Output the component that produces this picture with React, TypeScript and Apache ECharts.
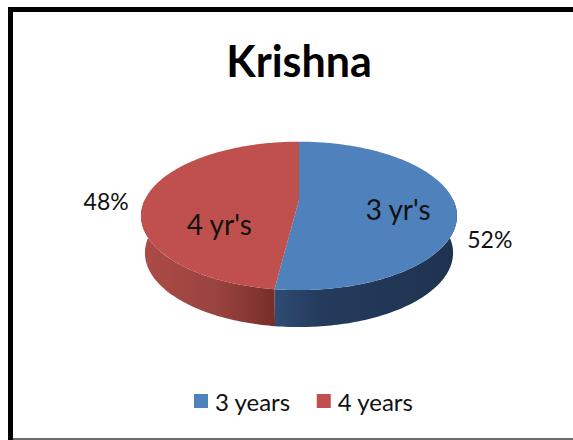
import React, { useEffect, useRef } from "react";
import * as echarts from "echarts";

// ---- data ----
const chartTitle = "Krishna";
const categories = ["3 years", "4 years"];
const values = [52, 48];
const sliceLabels = ["3 yr's", "4 yr's"];

// ---- styling / layout ----
const W = 573;
const H = 440;
const FONT = "Lato, 'Open Sans', sans-serif";
const topColors = ["#4F81BD", "#C0504D"];
const sideStops = [
  [
    { offset: 0, color: "#2f4c73" },
    { offset: 0.25, color: "#243b5d" },
    { offset: 1, color: "#1f3250" },
  ],
  [
    { offset: 0, color: "#ad4b47" },
    { offset: 0.6, color: "#98423e" },
    { offset: 1, color: "#772d2b" },
  ],
];
// pie projection (perspective ellipse)
const CX = 299;
const K = 0.214;
const TOP = { y0: 200, a: 70.8, b: 154.3 };
const BOT = { y0: 237, a: 70.8, b: 150.5 };
const INNER_R = 0.6;
const OUTER_R = 1.2;
const innerNudge = [
  [6, 6],
  [12, 27],
];
const outerNudge = [
  [3, 34],
  [-11, 6],
];

function proj(deg: number, r: number, lv: { y0: number; a: number; b: number }) {
  const t = (deg * Math.PI) / 180;
  const z = -r * Math.cos(t);
  const s = 1 / (1 - K * z);
  return [CX + lv.b * r * Math.sin(t) * s, lv.y0 + lv.a * z * s];
}

function arcPoints(a0: number, a1: number, lv: any) {
  const pts: number[][] = [];
  const n = Math.max(2, Math.ceil((a1 - a0) / 1));
  for (let i = 0; i <= n; i++) pts.push(proj(a0 + ((a1 - a0) * i) / n, 1, lv));
  return pts;
}

export default function App() {
  const ref = useRef<HTMLDivElement>(null);
  useEffect(() => {
    if (!ref.current) return;
    const chart = echarts.init(ref.current, null, { renderer: "svg" });
    const total = values.reduce((s, v) => s + v, 0);

    const series = categories.map((name, idx) => ({
      type: "custom",
      name,
      coordinateSystem: "none",
      itemStyle: { color: topColors[idx] },
      data: [[values[idx]]],
      renderItem: (params: any, api: any) => {
        const v = api.value(0);
        let cum = 0;
        for (let j = 0; j < idx; j++) cum += values[j];
        const a0 = (360 * cum) / total;
        const a1 = a0 + (360 * v) / total;
        const children: any[] = [];
        // side wall (front half only)
        const s0 = Math.max(a0, 90);
        const s1 = Math.min(a1, 270);
        if (s1 > s0) {
          const topArc = arcPoints(s0, s1, TOP);
          const botArc = arcPoints(s0, s1, BOT).reverse();
          const pts = topArc.concat(botArc);
          const xs = pts.map((p) => p[0]);
          const minX = Math.min(...xs);
          const maxX = Math.max(...xs);
          const grad = new echarts.graphic.LinearGradient(minX, 0, maxX, 0, sideStops[idx], true);
          children.push({
            type: "polygon",
            shape: { points: pts },
            style: { fill: grad, stroke: null },
          });
        }
        // top face
        const tp = [proj(0, 0, TOP)].concat(arcPoints(a0, a1, TOP));
        children.push({
          type: "polygon",
          shape: { points: tp },
          style: { fill: topColors[idx], stroke: null },
        });
        // labels
        const mid = (a0 + a1) / 2;
        const ip = proj(mid, INNER_R, TOP);
        children.push({
          type: "text",
          x: ip[0] + innerNudge[idx][0],
          y: ip[1] + innerNudge[idx][1],
          style: {
            text: sliceLabels[idx],
            font: `28px ${FONT}`,
            fill: "#111",
            textAlign: "center",
            textVerticalAlign: "middle",
          },
        });
        const op = proj(mid, OUTER_R, TOP);
        children.push({
          type: "text",
          x: op[0] + outerNudge[idx][0],
          y: op[1] + outerNudge[idx][1],
          style: {
            text: `${Math.round((100 * v) / total)}%`,
            font: `23px ${FONT}`,
            fill: "#111",
            textAlign: "center",
            textVerticalAlign: "middle",
          },
        });
        return { type: "group", children };
      },
    }));

    chart.setOption({
      animation: false,
      backgroundColor: "#ffffff",
      graphic: [
        { type: "rect", shape: { x: 8, y: 7, width: 5, height: 433 }, style: { fill: "#000" } },
        { type: "rect", shape: { x: 8, y: 7, width: 565, height: 5 }, style: { fill: "#000" } },
        { type: "rect", shape: { x: 13, y: 438, width: 560, height: 2 }, style: { fill: "#6b6b6b" } },
        {
          type: "text",
          x: 299,
          y: 60,
          style: {
            text: chartTitle,
            font: `bold 43px ${FONT}`,
            fill: "#000",
            textAlign: "center",
            textVerticalAlign: "middle",
          },
        },
      ],
      legend: {
        data: categories,
        left: 194,
        top: 389,
        padding: 0,
        icon: "rect",
        itemWidth: 14,
        itemHeight: 14,
        itemGap: 26,
        textStyle: { fontFamily: FONT, fontSize: 24, color: "#111", padding: [0, 0, 0, 2] },
      },
      series,
    });
    return () => chart.dispose();
  }, []);
  return (
    <div
      ref={ref}
      style={{ position: "fixed", left: 0, top: 0, width: W, height: H, background: "#fff" }}
    />
  );
}
